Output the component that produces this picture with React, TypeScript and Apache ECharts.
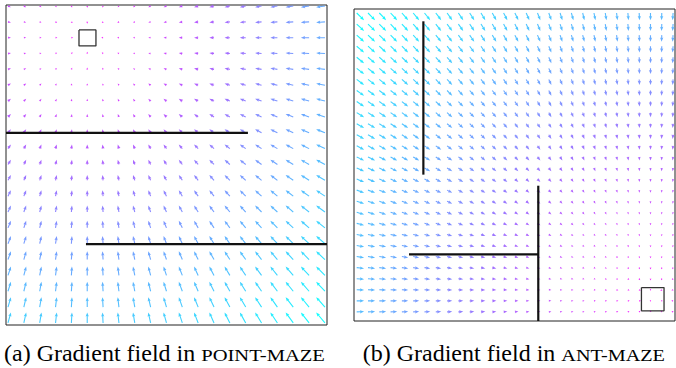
import React, { useEffect, useRef } from "react";
import * as echarts from "echarts";

// ---------- (a) POINT-MAZE ----------
const pointMazeCols = [0, 1, 2, 3, 4, 5, 6, 7, 8, 9, 10, 11, 12, 13, 14, 15, 16, 17, 18, 19, 20];
const pointMazeRows = [0, 1, 2, 3, 4, 5, 6, 7, 8, 9, 10, 11, 12, 13, 14, 15, 16, 17, 18, 19, 20];
const pointMazeGoal = [5, 2];
const pointMazeGain = 0.037;
const pointMazeWalls = [
  [[-0.126, 8.01], [15.14, 8.01]],
  [[4.92, 15.03], [20.13, 15.03]],
];
const pointMazeGoalBox = [4.48, 1.51, 5.55, 2.52];
const pointMazeXRange = [-0.126, 20.13];
const pointMazeYRange = [-0.063, 20.13];

// ---------- (b) ANT-MAZE ----------
const antMazeCols = [0, 1, 2, 3, 4, 5, 6, 7, 8, 9, 10, 11, 12, 13, 14, 15, 16, 17, 18, 19, 20, 21, 22, 23, 24, 25, 26, 27, 28];
const antMazeRows = [0, 1, 2, 3, 4, 5, 6, 7, 8, 9, 10, 11, 12, 13, 14, 15, 16, 17, 18, 19, 20, 21, 22, 23, 24, 25, 26, 27];
const antMazeGoal = [26.2, 25.85];
const antMazeGain = 0.025;
const antMazeWalls = [
  [[5.9, 0.75], [5.9, 14.6]],
  [[16.07, 15.6], [16.07, 27.82]],
  [[4.63, 21.8], [16.07, 21.8]],
];
const antMazeGoalBox = [25.2, 24.8, 27.2, 26.9];
const antMazeXRange = [-0.239, 28.17];
const antMazeYRange = [-0.361, 27.82];

// captions
const captionA = ["(a) Gradient field in ", "POINT-MAZE"];
const captionB = ["(b) Gradient field in ", "ANT-MAZE"];

const SERIF = '"Liberation Serif", "Times New Roman", Times, serif';

function buildField(cols: number[], rows: number[], goal: number[], gain: number) {
  const raw: number[][] = [];
  let maxM = 0;
  for (const r of rows) {
    for (const c of cols) {
      const dx = (goal[0] - c) * gain;
      const dy = (goal[1] - r) * gain;
      const m = Math.hypot(dx, dy);
      if (m > maxM) maxM = m;
      raw.push([c, r, dx, dy, m]);
    }
  }
  return raw.map((d) => [d[0], d[1], d[2], d[3], maxM > 0 ? d[4] / maxM : 0]);
}

function coolColor(t: number) {
  // matplotlib "cool": cyan (large magnitude) -> magenta (small)
  const x = 1 - t;
  const r = Math.round(255 * x);
  const g = Math.round(255 * (1 - x));
  return `rgba(${r},${g},255,0.92)`;
}

const renderArrow = (params: any, api: any) => {
  const x = api.value(0);
  const y = api.value(1);
  const dx = api.value(2);
  const dy = api.value(3);
  const t = api.value(4);
  const p0 = api.coord([x, y]);
  const p1 = api.coord([x + dx, y + dy]);
  let ux = p1[0] - p0[0];
  let uy = p1[1] - p0[1];
  const rawL = Math.hypot(ux, uy);
  const fill = coolColor(t);
  if (rawL < 0.3) {
    return {
      type: "circle",
      shape: { cx: p0[0], cy: p0[1], r: 0.6 },
      style: { fill },
    };
  }
  ux /= rawL;
  uy /= rawL;
  const L = Math.max(rawL, 1.8);
  const tip = [p0[0] + ux * L, p0[1] + uy * L];
  const nx = -uy;
  const ny = ux;
  let sw = 0.55;
  let hw = 1.6;
  let hl = 4.2;
  let hal = 3.7;
  if (L < hl) {
    const s = Math.max(L / hl, 0.55);
    sw *= s;
    hw *= s;
    hl = Math.min(hl * s, L);
    hal = Math.min(hal * s, L);
  }
  const ax = p0[0] + ux * (L - hal);
  const ay = p0[1] + uy * (L - hal);
  const hx = p0[0] + ux * (L - hl);
  const hy = p0[1] + uy * (L - hl);
  const pts = [
    [p0[0] + nx * sw, p0[1] + ny * sw],
    [ax + nx * sw, ay + ny * sw],
    [hx + nx * hw, hy + ny * hw],
    [tip[0], tip[1]],
    [hx - nx * hw, hy - ny * hw],
    [ax - nx * sw, ay - ny * sw],
    [p0[0] - nx * sw, p0[1] - ny * sw],
  ];
  return {
    type: "polygon",
    shape: { points: pts },
    style: { fill },
  };
};

function wallSeries(walls: number[][][], idx: number) {
  return walls.map((w) => ({
    type: "line",
    xAxisIndex: idx,
    yAxisIndex: idx,
    data: w,
    symbol: "none",
    silent: true,
    z: 5,
    lineStyle: { color: "#111", width: 2.2 },
  }));
}

function boxSeries(b: number[], idx: number) {
  return {
    type: "line",
    xAxisIndex: idx,
    yAxisIndex: idx,
    data: [
      [b[0], b[1]],
      [b[2], b[1]],
      [b[2], b[3]],
      [b[0], b[3]],
      [b[0], b[1]],
    ],
    symbol: "none",
    silent: true,
    z: 5,
    lineStyle: { color: "#333", width: 1.3 },
  };
}

function measure(text: string, size: number) {
  const c = document.createElement("canvas").getContext("2d");
  if (!c) return text.length * size * 0.5;
  c.font = `${size}px ${SERIF}`;
  return c.measureText(text).width;
}

function captionGraphics(parts: string[], left: number, right: number, baseline: number) {
  const fsMain = 24;
  const fsCaps = 17.5;
  const w1 = measure(parts[0], fsMain);
  const w2 = measure(parts[1], fsCaps);
  const target = right - left;
  let sx = (target - w1) / w2;
  if (!(sx > 0.9)) sx = 0.9;
  if (sx > 1.4) sx = 1.4;
  const total = w1 + w2 * sx;
  const start = (left + right) / 2 - total / 2;
  return [
    {
      type: "text",
      x: start,
      y: baseline - 0.3375 * fsMain,
      style: {
        text: parts[0],
        fontFamily: SERIF,
        fontSize: fsMain,
        fill: "#000",
        align: "left",
        verticalAlign: "middle",
      },
    },
    {
      type: "text",
      x: start + w1,
      y: baseline - 0.3375 * fsCaps,
      scaleX: sx,
      style: {
        text: parts[1],
        fontFamily: SERIF,
        fontSize: fsCaps,
        fill: "#000",
        align: "left",
        verticalAlign: "middle",
      },
    },
  ];
}

export default function App() {
  const ref = useRef<HTMLDivElement>(null);
  useEffect(() => {
    if (!ref.current) return;
    const chart = echarts.init(ref.current, undefined, { renderer: "svg" });
    const fieldA = buildField(pointMazeCols, pointMazeRows, pointMazeGoal, pointMazeGain);
    const fieldB = buildField(antMazeCols, antMazeRows, antMazeGoal, antMazeGain);
    const option: any = {
      animation: false,
      grid: [
        { left: 6, top: 5, width: 321, height: 320, show: true, borderColor: "#222", borderWidth: 1, backgroundColor: "#fff" },
        { left: 354, top: 9, width: 321, height: 312, show: true, borderColor: "#222", borderWidth: 1, backgroundColor: "#fff" },
      ],
      xAxis: [
        { type: "value", gridIndex: 0, min: pointMazeXRange[0], max: pointMazeXRange[1], show: false },
        { type: "value", gridIndex: 1, min: antMazeXRange[0], max: antMazeXRange[1], show: false },
      ],
      yAxis: [
        { type: "value", gridIndex: 0, min: pointMazeYRange[0], max: pointMazeYRange[1], inverse: true, show: false },
        { type: "value", gridIndex: 1, min: antMazeYRange[0], max: antMazeYRange[1], inverse: true, show: false },
      ],
      series: [
        {
          type: "custom",
          xAxisIndex: 0,
          yAxisIndex: 0,
          renderItem: renderArrow,
          data: fieldA,
          encode: { x: 0, y: 1 },
          clip: false,
          silent: true,
        },
        {
          type: "custom",
          xAxisIndex: 1,
          yAxisIndex: 1,
          renderItem: renderArrow,
          data: fieldB,
          encode: { x: 0, y: 1 },
          clip: false,
          silent: true,
        },
        ...wallSeries(pointMazeWalls, 0),
        ...wallSeries(antMazeWalls, 1),
        boxSeries(pointMazeGoalBox, 0),
        boxSeries(antMazeGoalBox, 1),
      ],
      graphic: [
        ...captionGraphics(captionA, 4, 325, 360.7),
        ...captionGraphics(captionB, 362.7, 665, 360.7),
      ],
    };
    chart.setOption(option);
    return () => chart.dispose();
  }, []);
  return (
    <div
      ref={ref}
      style={{ position: "absolute", left: 0, top: 0, width: 676, height: 368, background: "#fff" }}
    />
  );
}
